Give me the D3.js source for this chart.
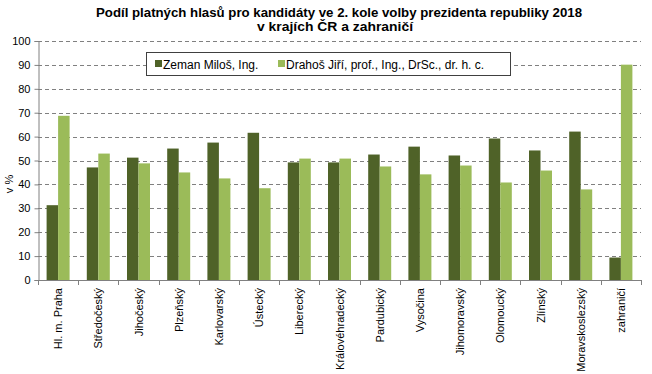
<!DOCTYPE html>
<html><head><meta charset="utf-8">
<script src="https://cdn.jsdelivr.net/npm/d3@7"></script>
<style>
html,body{margin:0;padding:0;background:#fff;}
svg{display:block;font-family:"Liberation Sans",Arial,sans-serif;}
</style></head>
<body>
<svg id="c" width="652" height="374"></svg>
<script>
const categories = ["Hl. m. Praha","Středočeský","Jihočeský","Plzeňský","Karlovarský","Ústecký","Liberecký","Královéhradecký","Pardubický","Vysočina","Jihomoravský","Olomoucký","Zlínský","Moravskoslezský","zahraničí"];
const seriesNames = ["Zeman Miloš, Ing.","Drahoš Jiří, prof., Ing., DrSc., dr. h. c."];
const zeman  = [31.3,47.1,51.2,55.0,57.5,61.6,49.2,49.2,52.5,55.8,52.1,59.2,54.2,62.1,9.4];
const drahos = [68.7,52.9,48.8,45.0,42.5,38.4,50.8,50.8,47.5,44.2,47.9,40.8,45.8,37.9,90.1];
const yTicks = [0,10,20,30,40,50,60,70,80,90,100];
const colors = ["#4F6228","#9BBB59"];
const title1 = "Podíl platných hlasů pro kandidáty ve 2. kole volby prezidenta republiky 2018";
const title2 = "v krajích ČR a zahraničí";
const yLabel = "v %";

const svg = d3.select("#c");
const L = 38, R = 641, T = 41, B = 280;
const x = d3.scaleBand().domain(categories).range([L, R]).paddingInner(0).paddingOuter(0);
const bw = x.bandwidth();
const groupW = 23;
const xs = d3.scaleBand().domain([0,1]).range([(bw-groupW)/2, (bw+groupW)/2]);
const y = d3.scaleLinear().domain([0,100]).range([B, T]);

// gridlines
svg.append("g").selectAll("line").data(yTicks.filter(d=>d>0)).join("line")
  .attr("x1", L).attr("x2", R)
  .attr("y1", d=>Math.round(y(d))+0.5).attr("y2", d=>Math.round(y(d))+0.5)
  .attr("stroke","#808080").attr("stroke-width",1).attr("stroke-dasharray","4,3");

// bars
const data = [zeman, drahos];
data.forEach((vals, si) => {
  svg.append("g").selectAll("rect").data(vals).join("rect")
    .attr("x", (d,i)=> x(categories[i]) + xs(si))
    .attr("width", xs.bandwidth())
    .attr("y", d=>y(d))
    .attr("height", d=>B - y(d))
    .attr("fill", colors[si]);
});

// y axis
const yAxis = d3.axisLeft(y).tickValues(yTicks).tickSize(4).tickPadding(4);
const gy = svg.append("g").attr("transform", `translate(${L+0.5},0)`).call(yAxis);
gy.select(".domain").attr("stroke","#808080");
gy.selectAll(".tick line").attr("stroke","#808080");
gy.selectAll(".tick text").attr("font-size","11px").attr("fill","#000").attr("font-family","Liberation Sans, Arial, sans-serif");

// x axis
const xAxis = d3.axisBottom(x).tickSize(0).tickFormat("");
const gx = svg.append("g").attr("transform", `translate(0,${B+0.5})`).call(xAxis);
gx.select(".domain").attr("stroke","#808080").attr("d", `M${L},0H${R}`);
gx.selectAll(".tick").remove();
// boundary ticks between categories
const bounds = categories.map(c=>x(c)).concat([R]);
svg.append("g").selectAll("line").data(bounds).join("line")
  .attr("x1", d=>Math.round(d)+0.5).attr("x2", d=>Math.round(d)+0.5)
  .attr("y1", B).attr("y2", B+5).attr("stroke","#808080");
// x labels
svg.append("g").selectAll("text").data(categories).join("text")
  .attr("transform", d=>`translate(${x(d)+bw/2+4},${B+8}) rotate(-90)`)
  .attr("text-anchor","end")
  .attr("font-size","11px").attr("fill","#000")
  .text(d=>d);

// y label
svg.append("text").attr("transform","translate(13,184) rotate(-90)")
  .attr("text-anchor","middle").attr("font-size","11px").text(yLabel);

// title
svg.append("text").attr("x",339).attr("y",17).attr("text-anchor","middle")
  .attr("font-family","Liberation Sans Narrow, Arial Narrow, Liberation Sans, sans-serif")
  .attr("font-weight","bold").attr("font-size","13.5px")
  .attr("textLength",486).attr("lengthAdjust","spacingAndGlyphs").text(title1);
svg.append("text").attr("x",335).attr("y",31).attr("text-anchor","middle")
  .attr("font-family","Liberation Sans Narrow, Arial Narrow, Liberation Sans, sans-serif")
  .attr("font-weight","bold").attr("font-size","13.5px")
  .attr("textLength",156).attr("lengthAdjust","spacingAndGlyphs").text(title2);

// legend
const lg = svg.append("g");
lg.append("rect").attr("x",146.5).attr("y",52.5).attr("width",364).attr("height",23)
  .attr("fill","#fff").attr("stroke","#404040");
const legX = [155, 278];
seriesNames.forEach((n,i)=>{
  lg.append("rect").attr("x",legX[i]).attr("y",60).attr("width",7).attr("height",7).attr("fill",colors[i]);
  lg.append("text").attr("x",legX[i]+8).attr("y",68.5).attr("font-size","12px").attr("fill","#000").text(n);
});
</script>
</body></html>
